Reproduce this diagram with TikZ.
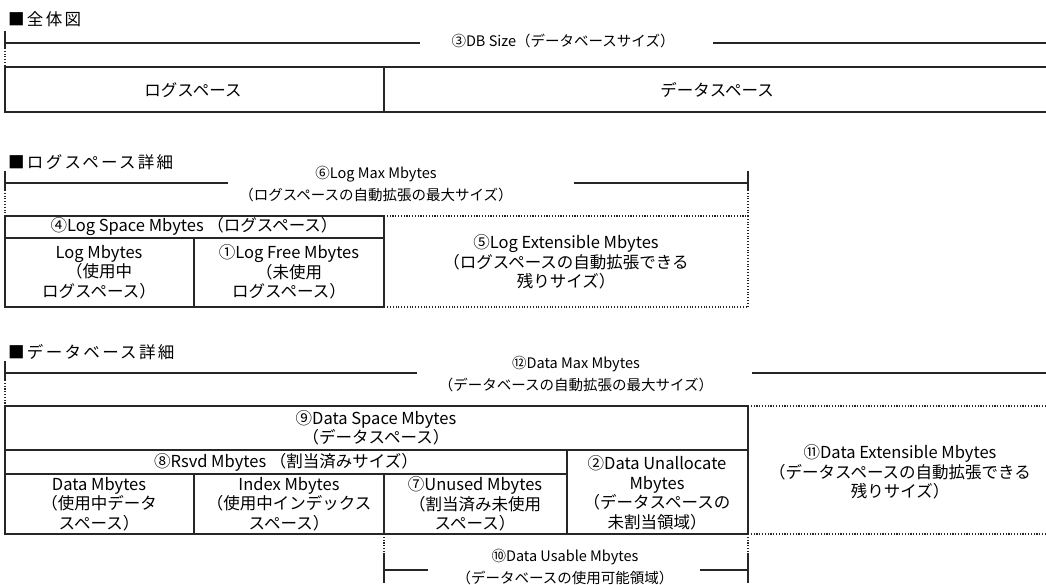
\documentclass[tikz,border=0pt]{standalone}
\usepackage{fontspec}
\setmainfont{Noto Sans CJK JP}
\tikzset{
  ln/.style={line width=1.1pt,draw=black!85},
  dt/.style={line width=1.1pt,draw=black!85,dash pattern=on 1.1pt off 1.7pt},
  boxtxt/.style={font=\fontsize{16.5}{19.5}\selectfont,align=center,inner sep=0pt},
  dimtxt/.style={font=\fontsize{14.5}{22}\selectfont,align=center,inner sep=0pt},
  ttl/.style={font=\fontsize{16.5}{18}\selectfont\addfontfeature{LetterSpace=14},anchor=west,inner sep=0pt}
}
\begin{document}
\begin{tikzpicture}[x=1pt,y=-1pt]
\useasboundingbox (0,0) rectangle (1046,585);
% --- overall view
\node[ttl] (ttlAll) at (8,19) {■全体図};
\coordinate (dbL) at (5,43);
\coordinate (dbA) at (420,43);
\coordinate (dbB) at (713,43);
\coordinate (dbR) at (1046,43);
\draw[ln] (5,31) -- (5,48);
\draw[dt] (5,48) -- (5,67);
\draw[ln] (dbL) -- (dbA);
\draw[ln] (dbB) -- (dbR);
\node[dimtxt] (dbSize) at (563,41) {③DB Size（データベースサイズ）};
\draw[ln] (1046,67) -- (5,67) -- (5,112) -- (1046,112);
\draw[ln] (384,67) -- (384,112);
\node[boxtxt] (logSp) at (193,90) {ログスペース};
\node[boxtxt] (dataSp) at (717,90) {データスペース};
% --- log space detail
\node[ttl] (ttlLog) at (8,162) {■ログスペース詳細};
\coordinate (lmL) at (5,183);
\coordinate (lmA) at (228,183);
\coordinate (lmB) at (574,183);
\coordinate (lmR) at (748,183);
\draw[ln] (5,171) -- (5,190);
\draw[dt] (5,190) -- (5,216);
\draw[ln] (748,171) -- (748,190);
\draw[dt] (748,190) -- (748,216);
\draw[ln] (lmL) -- (lmA);
\draw[ln] (lmB) -- (lmR);
\node[dimtxt] (logMax) at (376,184) {⑥Log Max Mbytes\\（ログスペースの自動拡張の最大サイズ）};
\draw[ln] (5,216) rectangle (384,307);
\draw[ln] (5,238) -- (384,238);
\draw[ln] (194,238) -- (194,307);
\draw[dt] (384,216) -- (748,216) -- (748,307) -- (384,307);
\node[boxtxt] (logSpMb) at (194,227) {④Log Space Mbytes （ログスペース）};
\node[boxtxt] (logMb) at (99,272) {Log Mbytes\\（使用中\\ログスペース）};
\node[boxtxt] (logFree) at (289,272) {①Log Free Mbytes\\（未使用\\ログスペース）};
\node[boxtxt] (logExt) at (566,262) {⑤Log Extensible Mbytes\\（ログスペースの自動拡張できる\\残りサイズ）};
% --- data space detail
\node[ttl] (ttlData) at (8,352) {■データベース詳細};
\coordinate (dmL) at (5,373);
\coordinate (dmA) at (417,373);
\coordinate (dmB) at (752,373);
\coordinate (dmR) at (1046,373);
\draw[ln] (5,361) -- (5,380);
\draw[dt] (5,380) -- (5,406);
\draw[ln] (dmL) -- (dmA);
\draw[ln] (dmB) -- (dmR);
\node[dimtxt] (dataMax) at (576,374) {⑫Data Max Mbytes\\（データベースの自動拡張の最大サイズ）};
\draw[ln] (5,406) rectangle (748,534);
\draw[ln] (5,450) -- (748,450);
\draw[ln] (5,474) -- (567,474);
\draw[ln] (567,450) -- (567,534);
\draw[ln] (194,474) -- (194,534);
\draw[ln] (384,474) -- (384,534);
\draw[dt] (748,406) -- (1046,406);
\draw[dt] (748,534) -- (1046,534);
\node[boxtxt] (dataSpMb) at (376,428) {⑨Data Space Mbytes\\（データスペース）};
\node[boxtxt] (rsvd) at (286,462) {⑧Rsvd Mbytes （割当済みサイズ）};
\node[boxtxt] (dataMb) at (99,504) {Data Mbytes\\（使用中データ\\スペース）};
\node[boxtxt] (indexMb) at (289,504) {Index Mbytes\\（使用中インデックス\\スペース）};
\node[boxtxt] (unused) at (475,504) {⑦Unused Mbytes\\（割当済み未使用\\スペース）};
\node[boxtxt] (unalloc) at (657,493) {②Data Unallocate\\Mbytes\\（データスペースの\\未割当領域）};
\node[boxtxt] (dataExt) at (900,472) {⑪Data Extensible Mbytes\\（データスペースの自動拡張できる\\残りサイズ）};
% usable size
\coordinate (duL) at (384,570);
\coordinate (duA) at (428,570);
\coordinate (duB) at (700,570);
\coordinate (duR) at (748,570);
\draw[dt] (384,534) -- (384,553);
\draw[ln] (384,553) -- (384,583);
\draw[dt] (748,534) -- (748,553);
\draw[ln] (748,553) -- (748,583);
\draw[ln] (duL) -- (duA);
\draw[ln] (duB) -- (duR);
\node[dimtxt] (usable) at (565,567) {⑩Data Usable Mbytes\\（データベースの使用可能領域）};
\end{tikzpicture}
\end{document}
